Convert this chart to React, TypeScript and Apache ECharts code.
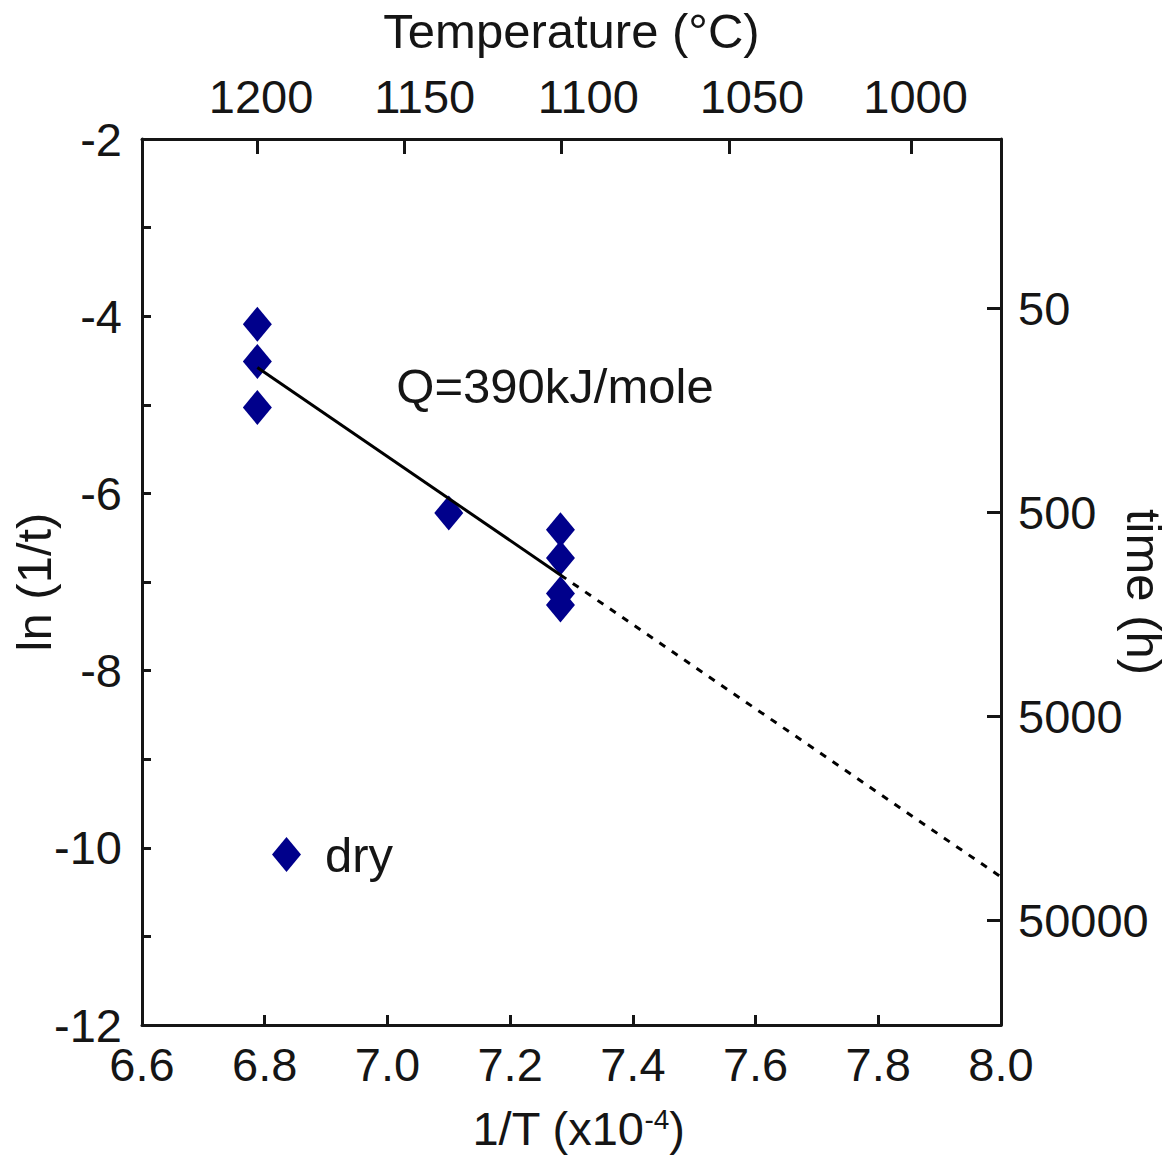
import React, { useEffect, useRef } from "react";
import * as echarts from "echarts";

// ---- data ----
const temperatureTicksC = [1200, 1150, 1100, 1050, 1000];
const timeTicksH = [50, 500, 5000, 50000];
const invTx = [6.788, 6.788, 6.788, 7.1, 7.282, 7.282, 7.282, 7.282];
const lnInvT = [-4.09, -4.51, -5.03, -6.22, -6.41, -6.73, -7.13, -7.26];
const fitSolidX = [6.788, 7.282];
const fitSolidY = [-4.58, -6.92];
const fitDashX = [7.282, 8.0];
const fitDashY = [-6.92, -10.33];

// ---- layout constants ----
const FONT = "'Liberation Sans', Arial, Helvetica, sans-serif";
const INK = "#151515";
const MARKER = "#00008b";
const topLabelStart = 6.794;
const topLabelStep = 0.2667;

const tempToInv = (c: number) => 1e4 / (c + 273.15);
const timeToLn = (t: number) => -Math.log(t);

export default function App() {
  const ref = useRef<HTMLDivElement>(null);
  useEffect(() => {
    document.body.style.margin = "0";
    if (!ref.current) return;
    const chart = echarts.init(ref.current, undefined, { renderer: "svg" });

    const topTickVals = temperatureTicksC.map(tempToInv);
    const topLabelVals = temperatureTicksC.map((_, i) => topLabelStart + i * topLabelStep);
    const rightVals = timeTicksH.map(timeToLn);
    const nearestIdx = (arr: number[], v: number) => {
      let best = 0;
      arr.forEach((a, i) => {
        if (Math.abs(a - v) < Math.abs(arr[best] - v)) best = i;
      });
      return best;
    };

    const axisLine = { show: true, lineStyle: { color: INK, width: 3 } };
    const labelStyle = { color: INK, fontSize: 47, fontFamily: FONT };
    const nameStyle = { color: INK, fontSize: 49, fontFamily: FONT };

    chart.setOption({
      animation: false,
      grid: {
        left: 142,
        top: 139,
        width: 859,
        height: 886,
        containLabel: false,
        outerBoundsMode: "none",
      },
      legend: {
        data: ["dry"],
        left: 272,
        top: 830,
        padding: 0,
        itemWidth: 29,
        itemHeight: 35,
        icon: "diamond",
        itemStyle: { opacity: 1 },
        textStyle: { ...nameStyle, padding: [0, 0, 6, 19] },
      },
      xAxis: [
        {
          type: "value",
          position: "bottom",
          min: 6.6,
          max: 8.0,
          interval: 0.2,
          axisLine,
          axisTick: { show: true, inside: true, length: 10, lineStyle: { color: INK, width: 3 } },
          axisLabel: { ...labelStyle, margin: 16, formatter: (v: number) => v.toFixed(1) },
          splitLine: { show: false },
          name: "1/T (x10{sup|-4})",
          nameLocation: "middle",
          nameGap: 80,
          nameMoveOverlap: false,
          nameTextStyle: {
            ...nameStyle,
            fontSize: 47,
            padding: [0, 0, 0, 14],
            rich: { sup: { color: INK, fontSize: 28, fontFamily: FONT, verticalAlign: "top" } },
          },
        },
        {
          type: "value",
          position: "top",
          min: 6.6,
          max: 8.0,
          axisLine,
          axisTick: {
            show: true,
            inside: true,
            length: 15,
            customValues: topTickVals,
            lineStyle: { color: INK, width: 3 },
          },
          axisLabel: {
            ...labelStyle,
            margin: 19,
            customValues: topLabelVals,
            formatter: (v: number) => String(temperatureTicksC[nearestIdx(topLabelVals, v)]),
          },
          splitLine: { show: false },
          name: "Temperature (°C)",
          nameLocation: "middle",
          nameGap: 84,
          nameMoveOverlap: false,
          nameTextStyle: nameStyle,
        },
      ],
      yAxis: [
        {
          type: "value",
          position: "left",
          min: -12,
          max: -2,
          interval: 1,
          axisLine,
          axisTick: { show: true, inside: true, length: 9, lineStyle: { color: INK, width: 3 } },
          axisLabel: {
            ...labelStyle,
            margin: 20,
            formatter: (v: number) => (Math.round(v) % 2 === 0 ? String(v) : ""),
          },
          splitLine: { show: false },
          name: "ln (1/t)",
          nameLocation: "middle",
          nameRotate: 90,
          nameGap: 84,
          nameMoveOverlap: false,
          nameTextStyle: nameStyle,
        },
        {
          type: "value",
          position: "right",
          min: -12,
          max: -2,
          axisLine,
          axisTick: {
            show: true,
            inside: true,
            length: 14,
            customValues: rightVals,
            lineStyle: { color: INK, width: 3 },
          },
          axisLabel: {
            ...labelStyle,
            margin: 17,
            customValues: rightVals,
            formatter: (v: number) => String(timeTicksH[nearestIdx(rightVals, v)]),
          },
          splitLine: { show: false },
          name: "time (h)",
          nameLocation: "middle",
          nameRotate: -90,
          nameGap: 118,
          nameMoveOverlap: false,
          nameTextStyle: { ...nameStyle, padding: [0, 0, 0, 20] },
        },
      ],
      series: [
        {
          name: "dry",
          type: "scatter",
          xAxisIndex: 0,
          yAxisIndex: 0,
          symbol: "diamond",
          symbolSize: [29, 35],
          itemStyle: { color: MARKER, opacity: 1 },
          data: invTx.map((x, i) => [x, lnInvT[i]]),
          z: 2,
        },
        {
          name: "fit",
          type: "line",
          xAxisIndex: 0,
          yAxisIndex: 0,
          symbol: "none",
          lineStyle: { color: "#000", width: 3 },
          data: fitSolidX.map((x, i) => [x, fitSolidY[i]]),
          z: 3,
        },
        {
          name: "extrapolation",
          type: "line",
          xAxisIndex: 0,
          yAxisIndex: 0,
          symbol: "none",
          lineStyle: { color: "#000", width: 3, type: [7, 8] },
          data: fitDashX.map((x, i) => [x, fitDashY[i]]),
          z: 3,
        },
      ],
      graphic: [
        {
          type: "text",
          x: 555,
          y: 386,
          style: {
            text: "Q=390kJ/mole",
            fill: INK,
            fontSize: 49,
            fontFamily: FONT,
            textAlign: "center",
            textVerticalAlign: "middle",
          },
        },
      ],
    });
    return () => chart.dispose();
  }, []);
  return <div ref={ref} style={{ width: 1175, height: 1162 }} />;
}
